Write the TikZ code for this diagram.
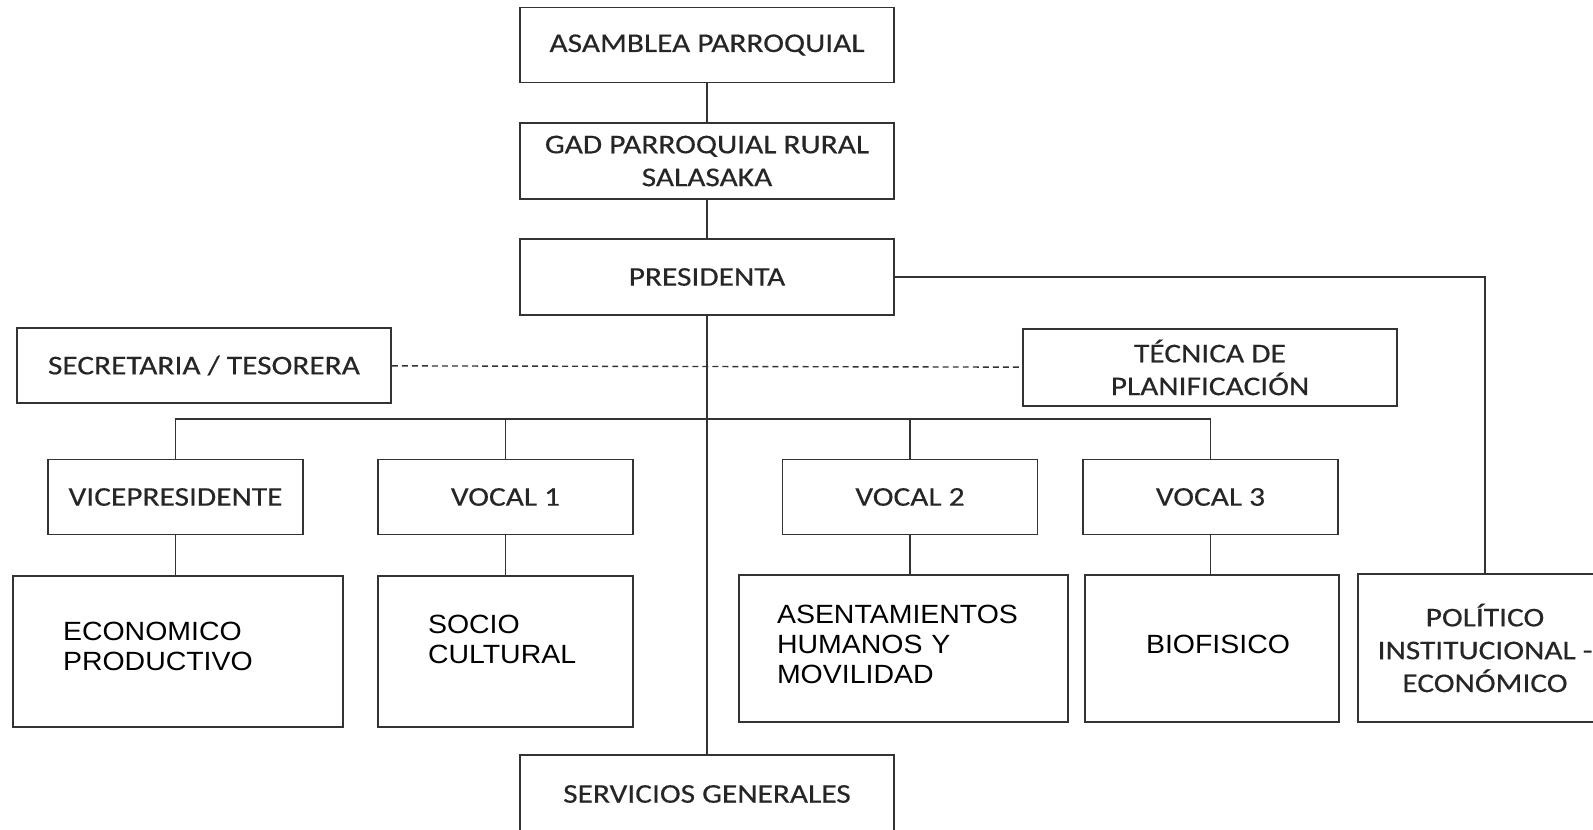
\documentclass[tikz,border=0pt]{standalone}
\usepackage{fontspec}
\setmainfont[FakeStretch=1.16,FakeBold=0.4]{Carlito}
\newfontfamily\arialfont[FakeStretch=1.08]{Liberation Sans}

\begin{document}
\begin{tikzpicture}
  [x=0.02cm,y=-0.02cm,line width=1.1pt,
   cargo/.style={draw=black!80,rectangle,minimum width=7.48cm,minimum height=1.5cm,
     align=center,text=black!85,font=\fontsize{15.4}{18.7}\selectfont,inner sep=0pt},
   vocal/.style={cargo,minimum width=5.1cm},
   area/.style={draw=black!80,rectangle,align=left,inner ysep=0pt,
     font=\arialfont\fontsize{15}{17}\selectfont}]
  \useasboundingbox (0,0) rectangle (1593,829);

  \node[cargo] (asamblea) at (707,45) {ASAMBLEA PARROQUIAL};
  \node[cargo,minimum height=1.52cm] (gad) at (707,161) {GAD PARROQUIAL RURAL\\SALASAKA};
  \node[cargo,minimum height=1.52cm] (presidenta) at (707,277) {PRESIDENTA};
  \node[cargo] (secretaria) at (204,365.5) {SECRETARIA / TESORERA};
  \node[cargo,minimum height=1.54cm] (tecnica) at (1210,367.5) {TÉCNICA DE\\PLANIFICACIÓN};
  \node[vocal] (vice) at (175.5,497) {VICEPRESIDENTE};
  \node[vocal] (vocal1) at (505.5,497) {VOCAL 1};
  \node[vocal] (vocal2) at (910,497) {VOCAL 2};
  \node[vocal] (vocal3) at (1210.5,497) {VOCAL 3};
  \node[area,text width=4.6cm,inner xsep=1cm,minimum height=3.02cm,text depth=23.1pt] (economico) at (178,651.5) {ECONOMICO\\PRODUCTIVO};
  \node[area,text width=3.1cm,inner xsep=1cm,minimum height=3.02cm,text depth=30.9pt] (socio) at (505.5,651.5) {SOCIO\\CULTURAL};
  \node[area,text width=5.06cm,inner xsep=0.76cm,minimum height=2.94cm,text depth=39.2pt] (asentamientos) at (903.5,648.5) {ASENTAMIENTOS\\HUMANOS Y\\MOVILIDAD};
  \node[area,text width=2.64cm,inner xsep=1.22cm,minimum height=2.94cm,text depth=4.5pt] (biofisico) at (1212,648.5) {BIOFISICO};
  \node[cargo,minimum width=5.08cm,minimum height=2.96cm] (politico) at (1485,648) {POLÍTICO\\INSTITUCIONAL -\\ECONÓMICO};
  \node[cargo,minimum height=1.56cm] (servicios) at (707,794) {SERVICIOS GENERALES};

  \coordinate (bus) at (707,419);

  \foreach \from/\to in {asamblea/gad,gad/presidenta,presidenta/servicios}
    \draw[black!80] (\from) -- (\to);
  \draw[black!80] (presidenta.east) -| (politico.north);
  \draw[black!80,dash pattern=on 3.4pt off 2.3pt,line width=0.8pt] (secretaria) -- (tecnica);
  \draw[black!80] (vice.north) |- (vocal3.north |- bus) -- (vocal3.north);
  \foreach \n in {vocal1,vocal2}
    \draw[black!80] (\n.north) -- (\n.north |- bus);
  \foreach \from/\to in {vice/economico,vocal1/socio,vocal2/asentamientos,vocal3/biofisico}
    \draw[black!80] (\from.south) -- (\from.south |- \to.north);

\end{tikzpicture}
\end{document}
